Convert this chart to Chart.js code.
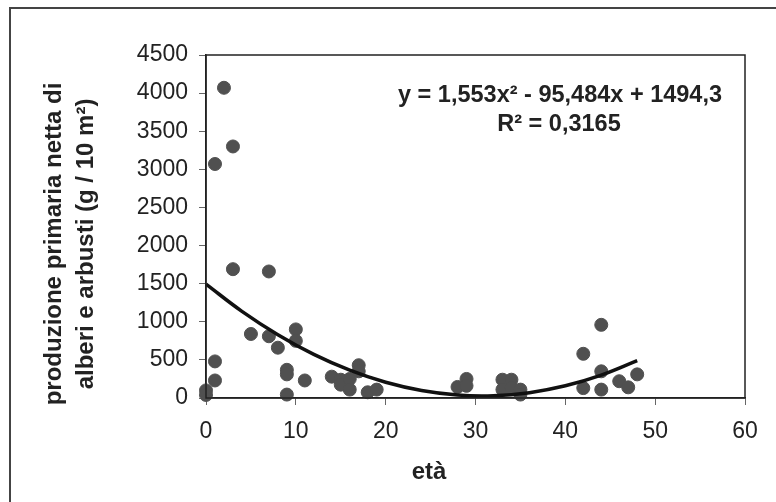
<!DOCTYPE html>
<html>
<head>
<meta charset="utf-8">
<script src="https://cdn.jsdelivr.net/npm/chart.js@4/dist/chart.umd.min.js"></script>
<style>
  html, body { margin: 0; padding: 0; background: #fff; }
  #wrap { width: 776px; height: 502px; }
</style>
</head>
<body>
<div id="wrap"><canvas id="chart" width="776" height="502"></canvas></div>
<script>
// età (anni) e produzione primaria netta
const ages = [0, 0, 1, 1, 1, 2, 3, 3, 5, 7, 7, 8, 9, 9, 9, 10, 10, 11, 14, 15, 15, 16, 16, 17, 17, 18, 19,
  28, 29, 29, 33, 33, 34, 34, 35, 35, 42, 42, 44, 44, 44, 46, 47, 48];
const production = [100, 40, 480, 230, 3070, 4070, 3300, 1690, 840, 1660, 810, 660, 370, 310, 45, 900, 750, 230, 280, 240, 175, 250, 110, 430, 350, 75, 110,
  145, 250, 160, 240, 110, 240, 130, 110, 45, 580, 130, 960, 350, 110, 220, 140, 310];

// linea di tendenza (polinomiale)
const trendAges = [0, 4, 8, 12, 16, 20, 24, 28, 32, 36, 40, 44, 48];
const trendValues = [1494, 1137, 830, 572, 365, 206, 98, 39, 30, 70, 160, 300, 489];

const xTicks = [0, 10, 20, 30, 40, 50, 60];
const yTicks = [0, 500, 1000, 1500, 2000, 2500, 3000, 3500, 4000, 4500];

const equationText = "y = 1,553x² - 95,484x + 1494,3";
const r2Text = "R² = 0,3165";
const xTitle = "età";
const yTitle = ["produzione primaria netta di", "alberi e arbusti (g / 10 m²)"];

const FONT = "'Liberation Sans', Arial, sans-serif";
const TEXT = "#222222";

const points = ages.map((a, i) => ({ x: a, y: production[i] }));
const trend = trendAges.map((a, i) => ({ x: a, y: trendValues[i] }));

const decorations = {
  id: "decorations",
  afterDraw(chart) {
    const ctx = chart.ctx;
    const area = chart.chartArea;
    ctx.save();

    // cornice esterna
    ctx.strokeStyle = "#444";
    ctx.lineWidth = 2;
    ctx.beginPath();
    ctx.moveTo(10, 502);
    ctx.lineTo(10, 8);
    ctx.lineTo(776, 8);
    ctx.stroke();

    // bordo area grafico
    ctx.strokeStyle = "#222";
    ctx.lineWidth = 1.5;
    ctx.strokeRect(area.left, area.top, area.right - area.left, area.bottom - area.top);

    // equazione e R²
    ctx.fillStyle = TEXT;
    ctx.textAlign = "center";
    ctx.textBaseline = "middle";
    ctx.font = "bold 23.5px " + FONT;
    ctx.fillText(equationText, 560, 96);
    ctx.fillText(r2Text, 559, 125);

    // titolo asse x
    ctx.font = "bold 24px " + FONT;
    ctx.fillText(xTitle, 429, 472);

    // titolo asse y
    ctx.translate(0, 244);
    ctx.rotate(-Math.PI / 2);
    ctx.fillText(yTitle[0], 0, 54);
    ctx.fillText(yTitle[1], 0, 86);
    ctx.restore();
  },
};

new Chart(document.getElementById("chart"), {
  type: "scatter",
  data: {
    datasets: [
      {
        label: "trend",
        data: trend,
        showLine: true,
        borderColor: "#111",
        borderWidth: 3.5,
        pointRadius: 0,
        tension: 0.4,
        fill: false,
        clip: false,
        order: 1,
      },
      {
        label: "dati",
        data: points,
        backgroundColor: "#505050",
        borderColor: "#505050",
        pointRadius: 6.5,
        pointHoverRadius: 6.5,
        clip: false,
        order: 2,
      },
    ],
  },
  options: {
    responsive: false,
    animation: false,
    layout: { padding: { top: 55, right: 31, bottom: 0, left: 0 } },
    plugins: {
      legend: { display: false },
      tooltip: { enabled: false },
    },
    scales: {
      x: {
        type: "linear",
        min: 0,
        max: 60,
        afterBuildTicks: (scale) => {
          scale.ticks = xTicks.map((v) => ({ value: v }));
        },
        afterFit: (scale) => {
          scale.height = 104;
        },
        grid: { drawOnChartArea: false, drawTicks: true, tickLength: 7, color: "#666" },
        border: { display: true, color: "#222", width: 1.5 },
        ticks: {
          color: TEXT,
          font: { family: FONT, size: 23 },
          padding: 13,
          maxRotation: 0,
          callback: (v) => String(v),
        },
      },
      y: {
        type: "linear",
        min: 0,
        max: 4500,
        afterBuildTicks: (scale) => {
          scale.ticks = yTicks.map((v) => ({ value: v }));
        },
        afterFit: (scale) => {
          scale.width = 206;
        },
        grid: { drawOnChartArea: false, drawTicks: true, tickLength: 7, color: "#666" },
        border: { display: true, color: "#222", width: 1.5 },
        ticks: {
          color: TEXT,
          font: { family: FONT, size: 23 },
          padding: 11,
          callback: (v) => String(v),
        },
      },
    },
  },
  plugins: [decorations],
});
</script>
</body>
</html>
